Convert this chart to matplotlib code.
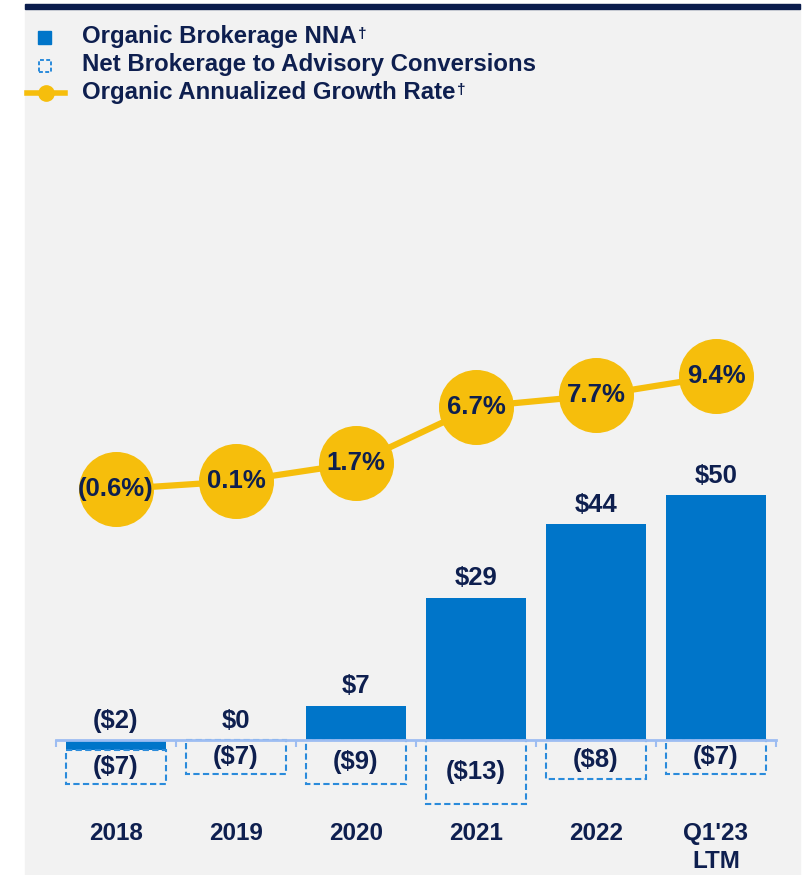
import numpy as np
import matplotlib
matplotlib.use("Agg")
import matplotlib.pyplot as plt
from matplotlib.patches import Rectangle
from matplotlib.lines import Line2D

# data ($ billions, %)
categories = ["2018", "2019", "2020", "2021", "2022", "Q1'23\nLTM"]
organic_nna = [-2, 0, 7, 29, 44, 50]
conversions = [-7, -7, -9, -13, -8, -7]
growth_rate = [-0.6, 0.1, 1.7, 6.7, 7.7, 9.4]

NAVY = "#0E1F4F"
BLUE = "#0075C9"
DASH_BLUE = "#2A8BDB"
GOLD = "#F6BE0C"
AXIS_BLUE = "#9DBDF2"
BG = "#F2F2F2"

plt.rcParams["font.family"] = ["Liberation Sans", "DejaVu Sans"]
plt.rcParams["font.weight"] = "bold"

W, H = 807, 875
fig = plt.figure(figsize=(W / 100, H / 100), dpi=100)

def fx(px):
    return px / W

def fy(py):
    return 1 - py / H

# gray panel and navy strip at the top
fig.patches.append(Rectangle((fx(25), 0), fx(800) - fx(25), fy(4), transform=fig.transFigure,
                             color=BG, zorder=-2))
fig.patches.append(Rectangle((fx(25), fy(9)), fx(800) - fx(25), 5 / H, transform=fig.transFigure,
                             color="#0B1D4D", zorder=-1))

ax = fig.add_axes([fx(56), fy(820), 720 / W, 720 / H])
ax.patch.set_alpha(0)
x = np.arange(len(categories))
nna = np.array(organic_nna)
conv = np.array(conversions)

ax.bar(x, nna, width=0.83, color=BLUE, zorder=2)
ax.bar(x, conv, bottom=np.minimum(nna, 0), width=0.83, fill=False, edgecolor=DASH_BLUE,
       linestyle=(0, (3, 1.6)), linewidth=1.5, zorder=2)

ax.set_xlim(-0.5, 5.5)
ax.set_ylim(-16.33, 130.6)
for s in ["top", "left", "right"]:
    ax.spines[s].set_visible(False)
ax.spines["bottom"].set_position(("data", 0))
ax.spines["bottom"].set_color(AXIS_BLUE)
ax.spines["bottom"].set_linewidth(2)
ax.set_yticks([])
ax.set_xticks(x)
ax.set_xticklabels(categories, fontsize=17.5, fontweight="bold", color=NAVY, linespacing=1.3)
ax.set_xticks(np.arange(-0.5, 6, 1), minor=True)
ax.tick_params(axis="x", which="major", length=0, pad=59)
ax.tick_params(axis="x", which="minor", length=5, width=1.5, color=AXIS_BLUE, direction="out")

# value labels
for xi, v in zip(x, nna):
    lab = f"${v}" if v >= 0 else f"(${-v})"
    ax.annotate(lab, (xi, max(v, 0)), xytext=(0, 14), textcoords="offset points",
                ha="center", va="center", fontsize=18.5, fontweight="bold", color=NAVY)
for xi, v, c in zip(x, nna, conv):
    base = min(v, 0)
    ax.text(xi, base + c / 2, f"(${-c})", ha="center", va="center", fontsize=18.5,
            fontweight="bold", color=NAVY, zorder=3)

# growth rate line on its own scale
ax2 = ax.twinx()
ax2.set_ylim(-29.9, 33.87)
ax2.axis("off")
ax2.plot(x, growth_rate, color=GOLD, lw=4.5, marker="o", markersize=53, zorder=3)
for xi, g in zip(x, growth_rate):
    lab = f"{g:.1f}%" if g >= 0 else f"({-g:.1f}%)"
    ax2.text(xi, g, lab, ha="center", va="center", fontsize=18.5, fontweight="bold",
             color=NAVY, zorder=4)

# legend drawn by hand
fig.add_artist(Rectangle((fx(38), fy(44)), 13 / W, 13 / H, transform=fig.transFigure,
                         color=BLUE))
fig.add_artist(Rectangle((fx(39), fy(72)), 12 / W, 12 / H, transform=fig.transFigure,
                         fill=False, edgecolor=DASH_BLUE, linestyle=(0, (2, 1.2)), lw=1.4))
fig.add_artist(Line2D([fx(27), fx(46), fx(65)], [fy(93)] * 3, transform=fig.transFigure,
                      color=GOLD, lw=4, marker="o", markersize=11, markevery=[1]))

legend_items = [("Organic Brokerage NNA", True, 37),
                ("Net Brokerage to Advisory Conversions", False, 65),
                ("Organic Annualized Growth Rate", True, 93)]
for txt, dag, py in legend_items:
    t = fig.text(fx(82), fy(py), txt, ha="left", va="center", fontsize=17.3,
                 fontweight="bold", color=NAVY)
    if dag:
        fig.add_artist(matplotlib.text.Annotation(
            "\u2020", xy=(1, 1), xycoords=t, xytext=(1, -1), textcoords="offset points",
            ha="left", va="top", fontsize=11, fontweight="bold", color=NAVY))

fig.savefig("out.png", dpi=100, facecolor="white")
